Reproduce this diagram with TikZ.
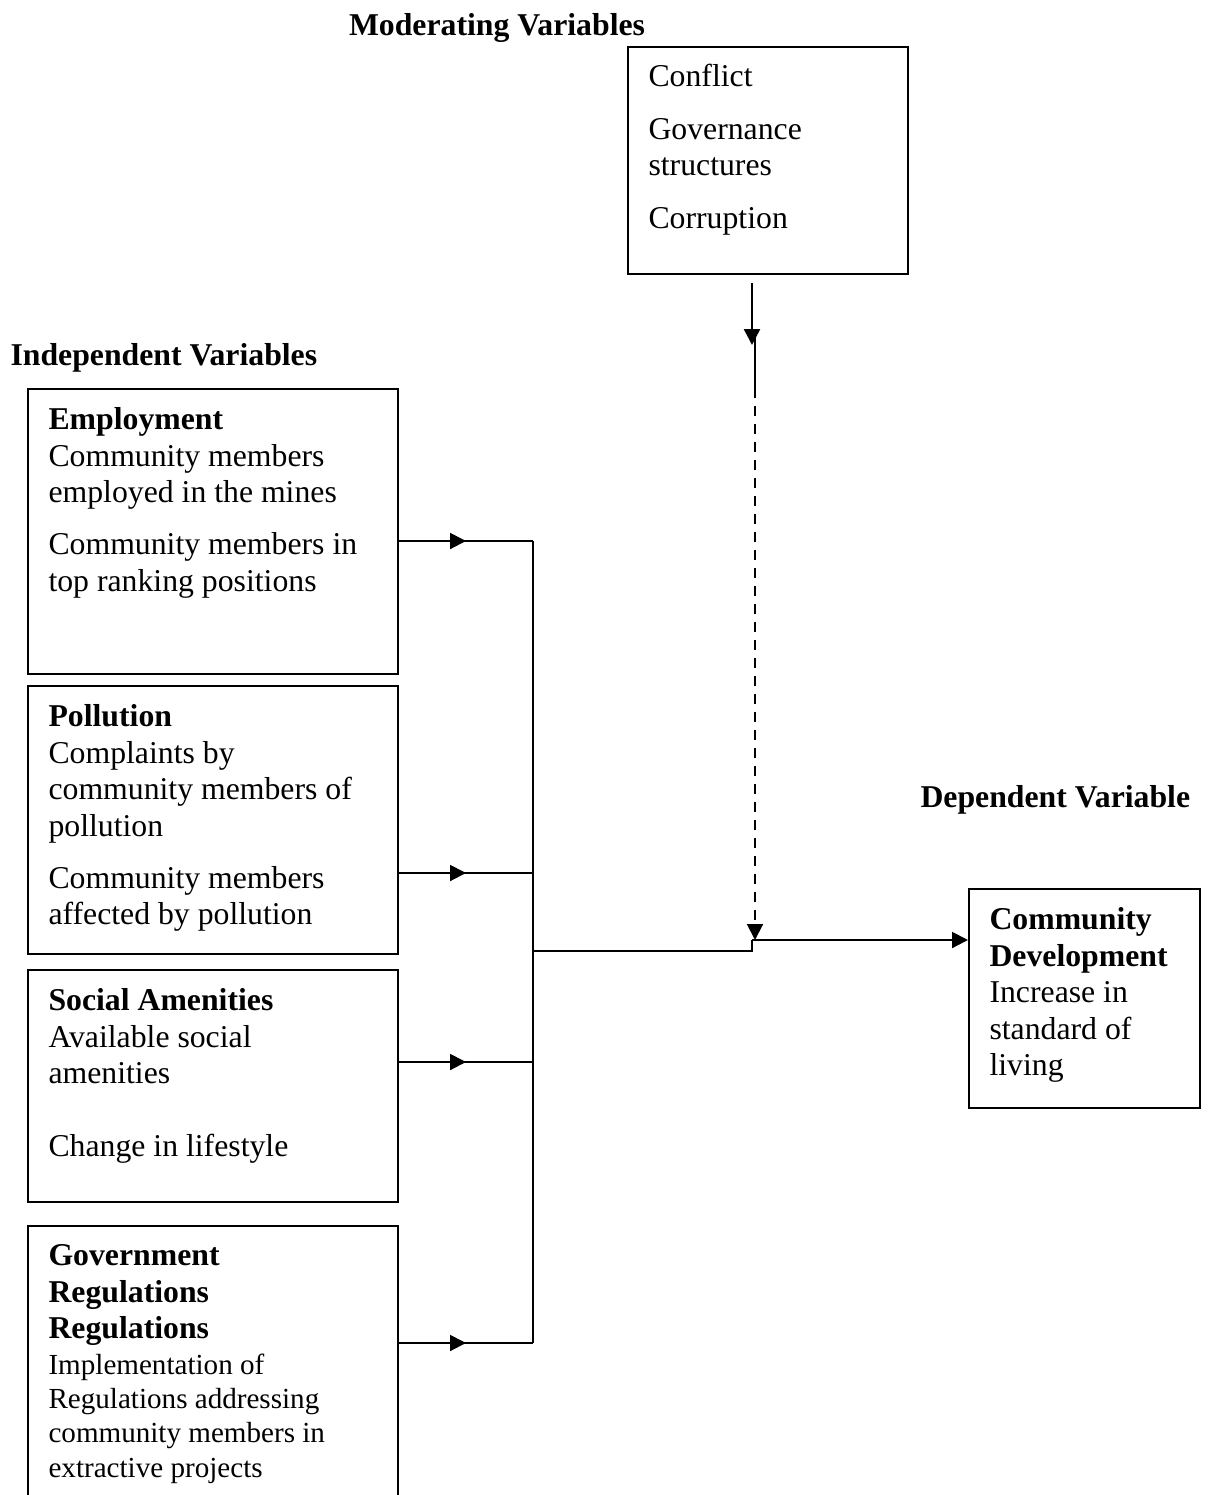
\documentclass[tikz,border=0pt]{standalone}
\usepackage{fontspec}
\setmainfont{Liberation Serif}
\usetikzlibrary{arrows.meta,fit,decorations.markings}
\tikzstyle{varbox} = [draw=black, line width=0.75pt, inner sep=0pt]
\tikzstyle{vartext} = [anchor=north west, inner sep=0pt, align=left]
\tikzstyle{heading} = [anchor=base west, inner sep=0pt, font={\fontsize{12}{13.8}\selectfont\bfseries}]
\tikzstyle{link} = [line width=0.75pt]
\tikzstyle{tip} = [-{Triangle[length=6pt,width=6pt]}]
\tikzstyle{midtip} = [postaction={decorate}, decoration={markings, mark=at position 0.5 with {\arrow{Triangle[length=6pt,width=6pt]}}}]
\tikzset{font={\fontsize{12}{13.8}\selectfont}}

\begin{document}
\begin{tikzpicture}[x=0.378pt, y=-0.378pt]
  \useasboundingbox (0,0) rectangle (1212,1495);
  \clip (0,0) rectangle (1212,1495);

  % headings
  \node[heading, anchor=base] (modhead) at (497,35) {Moderating Variables};
  \node[heading] (indhead) at (10,365) {Independent Variables};
  \node[heading] (dephead) at (920,807) {Dependent Variable};

  % moderating variables
  \node[varbox, fit={(628,47) (908,274)}] (mod) {};
  \node[vartext] (modt) at ([shift={(21,18)}]mod.north west)
    {Conflict\\[6pt] Governance\\ structures\\[6pt] Corruption};

  % independent variables
  \node[varbox, fit={(28,389) (398,674)}] (emp) {};
  \node[vartext] (empt) at ([shift={(21,19)}]emp.north west)
    {\textbf{Employment}\\ Community members\\ employed in the mines\\[6pt]
     Community members in\\ top ranking positions};

  \node[varbox, fit={(28,686) (398,954)}] (pol) {};
  \node[vartext] (polt) at ([shift={(21,19)}]pol.north west)
    {\textbf{Pollution}\\ Complaints by\\ community members of\\ pollution\\[6pt]
     Community members\\ affected by pollution};

  \node[varbox, fit={(28,970) (398,1202)}] (soc) {};
  \node[vartext] (soct) at ([shift={(21,19)}]soc.north west)
    {\textbf{Social Amenities}\\ Available social\\ amenities\\[13.8pt]
     Change in lifestyle};

  \node[varbox, fit={(28,1226) (398,1530)}] (gov) {};
  \node[vartext] (govt) at ([shift={(21,19)}]gov.north west)
    {\textbf{Government}\\ \textbf{Regulations}\\ \textbf{Regulations}};
  \node[vartext, font={\fontsize{11}{13}\selectfont}] (govb) at ([shift={(21,128)}]gov.north west)
    {Implementation of\\ Regulations addressing\\ community members in\\ extractive projects};

  % dependent variable
  \node[varbox, fit={(969,889) (1200,1108)}] (dv) {};
  \node[vartext] (dvt) at ([shift={(21,19)}]dv.north west)
    {\textbf{Community}\\ \textbf{Development}\\ Increase in\\ standard of\\ living};

  % connectors
  \coordinate (bus1) at (533,541);
  \coordinate (bus2) at (533,873);
  \coordinate (bus3) at (533,1062);
  \coordinate (bus4) at (533,1343);
  \coordinate (busout) at (533,951);
  \coordinate (kink) at (752,951);
  \coordinate (join) at (752,940);

  \foreach \b/\n in {emp/1, pol/2, soc/3, gov/4}
    \draw[link, midtip] (bus\n -| \b.east) -- (bus\n);
  \draw[link] (bus1) -- (bus4);
  \draw[link] (busout) -- (kink) -- (join);
  \draw[link, tip] (join) -- (join -| dv.west);

  \coordinate (modout) at (752,283);
  \coordinate (modtip) at (752,345);
  \coordinate (solidtop) at (755,335);
  \coordinate (dashtop) at (755,388);
  \coordinate (dashend) at (755,940);
  \draw[link, line width=0.9pt, tip] (modout) -- (modtip);
  \draw[link] (solidtop) -- (dashtop);
  \draw[link, tip, dash pattern=on 3.8pt off 3pt] (dashtop) -- (dashend);
\end{tikzpicture}
\end{document}
